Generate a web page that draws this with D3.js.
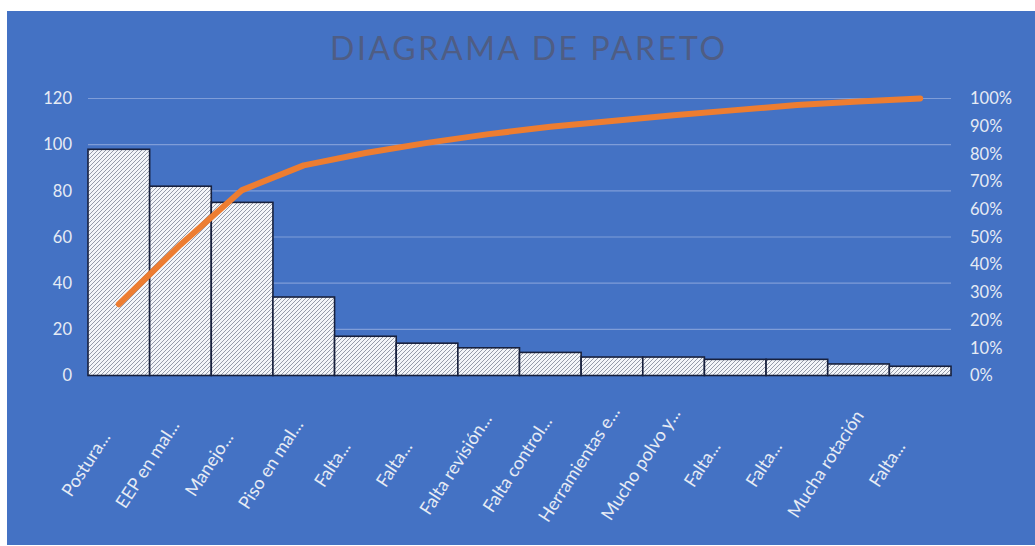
<!DOCTYPE html>
<html><head><meta charset="utf-8">
<script src="https://cdn.jsdelivr.net/npm/d3@7"></script>
<style>
html,body{margin:0;padding:0;background:#fff;}
svg{display:block;}
text{font-family:Lato,"Open Sans",sans-serif;}
</style></head>
<body>
<svg id="c" width="1035" height="546"></svg>
<script>
const categories = ["Postura...","EEP en mal...","Manejo...","Piso en mal...","Falta...","Falta...","Falta revisión...","Falta control...","Herramientas e...","Mucho polvo y...","Falta...","Falta...","Mucha rotación","Falta..."];
const frequencies = [98,82,75,34,17,14,12,10,8,8,7,7,5,4];
const leftTicks = [0,20,40,60,80,100,120];
const rightTicks = [0,0.1,0.2,0.3,0.4,0.5,0.6,0.7,0.8,0.9,1];
const titleText = "DIAGRAMA DE PARETO";

const total = d3.sum(frequencies);
let run = 0;
const cumulative = frequencies.map(v => (run += v) / total);

const svg = d3.select("#c");
svg.append("rect").attr("x",7).attr("y",11).attr("width",1028).attr("height",534).attr("fill","#4472C4");

const defs = svg.append("defs");
const pat = defs.append("pattern").attr("id","hatch").attr("patternUnits","userSpaceOnUse")
  .attr("width",4).attr("height",4);
pat.append("rect").attr("width",4).attr("height",4).attr("fill","#f3f5f9");
pat.append("path").attr("d","M-1,1 l2,-2 M0,4 l4,-4 M3,5 l2,-2").attr("stroke","#8a91a2").attr("stroke-width",0.9);

const x = d3.scaleBand().domain(d3.range(categories.length)).range([88,951]).padding(0);
const y = d3.scaleLinear().domain([0,120]).range([375.5,98.5]);
const y2 = d3.scaleLinear().domain([0,1]).range([375.5,98.5]);

// title
svg.append("text").attr("x",527.5).attr("y",60).attr("text-anchor","middle")
  .attr("font-size",32).attr("font-weight",400).attr("fill","#4f5d84")
  .attr("textLength",395).attr("lengthAdjust","spacing").text(titleText);

// gridlines
svg.append("g").selectAll("line").data(leftTicks.filter(d=>d>0)).join("line")
  .attr("x1",88).attr("x2",951).attr("y1",d=>y(d)).attr("y2",d=>y(d))
  .attr("stroke","#7f9dd8").attr("stroke-width",1.2);

// left axis
const gl = svg.append("g").attr("transform","translate(72,0)")
  .call(d3.axisLeft(y).tickValues(leftTicks).tickSize(0).tickPadding(0));
gl.select(".domain").remove();
gl.selectAll("text").attr("font-size",16.5).attr("fill","#e6ebf4").attr("font-family","Lato,sans-serif");

// right axis
const gr = svg.append("g").attr("transform","translate(970,0)")
  .call(d3.axisRight(y2).tickValues(rightTicks).tickFormat(d3.format(".0%")).tickSize(0).tickPadding(0));
gr.select(".domain").remove();
gr.selectAll("text").attr("font-size",16.5).attr("fill","#e6ebf4").attr("font-family","Lato,sans-serif");

// bars
svg.append("g").selectAll("rect").data(frequencies).join("rect")
  .attr("x",(d,i)=>x(i)).attr("width",x.bandwidth())
  .attr("y",d=>y(d)).attr("height",d=>y(0)-y(d))
  .attr("fill","url(#hatch)").attr("stroke","#17203d").attr("stroke-width",1.6);

// cumulative line
const line = d3.line().x((d,i)=>x(i)+x.bandwidth()/2).y(d=>y2(d));
svg.append("path").datum(cumulative).attr("d",line).attr("fill","none")
  .attr("stroke","#ED7D31").attr("stroke-width",6).attr("stroke-linecap","round").attr("stroke-linejoin","round");

// x labels
svg.append("g").selectAll("text").data(categories).join("text")
  .attr("transform",(d,i)=>`translate(${x(i)+x.bandwidth()/2-33},464) rotate(-57)`)
  .attr("text-anchor","middle").attr("dy","0.35em")
  .attr("font-size",18).attr("fill","#e6ebf4").text(d=>d);
</script>
</body></html>
